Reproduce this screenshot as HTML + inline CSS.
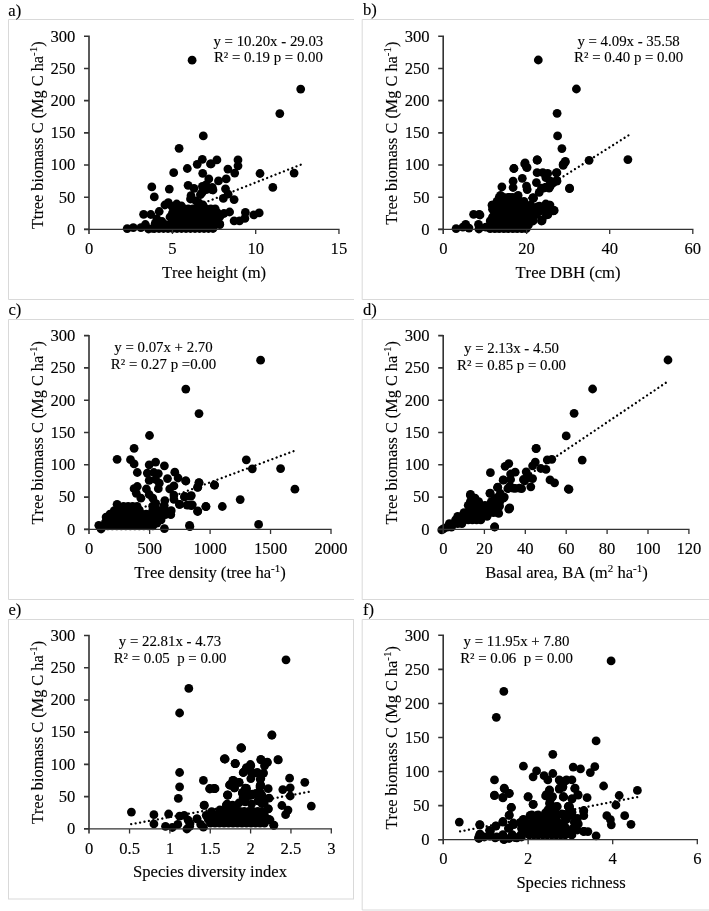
<!DOCTYPE html>
<html><head><meta charset="utf-8"><title>Tree biomass C scatter plots</title>
<style>html,body{margin:0;padding:0;background:#fff}body{width:709px;height:911px;overflow:hidden}svg{display:block;will-change:transform}
text{font-family:"Liberation Serif",serif;fill:#000;stroke:#000;stroke-width:.12px;font-kerning:none}.t{font-size:16.6px}.eq{font-size:14.85px}.sup{font-size:11px}.lab{font-size:16.6px}.yl{font-size:16.3px}
.ax{stroke:#333;fill:none}.pt circle{fill:#000}.tl{stroke:#000;stroke-width:2.3;stroke-dasharray:0.01 4.5;stroke-linecap:round;fill:none}
</style></head><body>
<svg width="709" height="911" viewBox="0 0 709 911">
<rect width="709" height="911" fill="#fff"/>
<!-- panel a -->
<g>
<path d="M354 19.5H8.5V299.5H354" fill="none" stroke="#d9d9d9" stroke-width="1"/>
<text class="lab" x="8.3" y="15.5">a)</text>
<g class="pt">
<circle cx="192.1" cy="60.2" r="4.4"/><circle cx="300.7" cy="89.1" r="4.4"/><circle cx="279.8" cy="113.6" r="4.4"/><circle cx="203.3" cy="135.9" r="4.4"/><circle cx="179.1" cy="148.3" r="4.4"/><circle cx="202.3" cy="159.3" r="4.4"/><circle cx="197.2" cy="164.3" r="4.4"/><circle cx="211.1" cy="163.9" r="4.4"/><circle cx="187.3" cy="168.5" r="4.4"/><circle cx="173.7" cy="172.7" r="4.4"/><circle cx="202.7" cy="173.3" r="4.4"/><circle cx="208.8" cy="178.9" r="4.4"/><circle cx="218.5" cy="180.9" r="4.4"/><circle cx="226.2" cy="178.9" r="4.4"/><circle cx="188.1" cy="185.3" r="4.4"/><circle cx="151.8" cy="186.9" r="4.4"/><circle cx="169.3" cy="189.1" r="4.4"/><circle cx="154.3" cy="196.9" r="4.4"/><circle cx="194" cy="188.3" r="4.4"/><circle cx="202.4" cy="186.3" r="4.4"/><circle cx="206.3" cy="189.7" r="4.4"/><circle cx="212.3" cy="187.3" r="4.4"/><circle cx="213" cy="190" r="4.4"/><circle cx="200.4" cy="194.7" r="4.4"/><circle cx="191" cy="195.7" r="4.4"/><circle cx="190.5" cy="199" r="4.4"/><circle cx="223.3" cy="198.4" r="4.4"/><circle cx="205.9" cy="184.8" r="4.4"/><circle cx="211.8" cy="189.7" r="4.4"/><circle cx="202" cy="192.7" r="4.4"/><circle cx="225.5" cy="188.8" r="4.4"/><circle cx="228.1" cy="194.2" r="4.4"/><circle cx="234.1" cy="199.6" r="4.4"/><circle cx="168.3" cy="202.6" r="4.4"/><circle cx="164.9" cy="205" r="4.4"/><circle cx="176.7" cy="204" r="4.4"/><circle cx="181.5" cy="206" r="4.4"/><circle cx="159.2" cy="211.5" r="4.4"/><circle cx="143.6" cy="214.3" r="4.4"/><circle cx="150.8" cy="214.5" r="4.4"/><circle cx="127.2" cy="228.6" r="4.4"/><circle cx="133.3" cy="227.7" r="4.4"/><circle cx="140.9" cy="227.7" r="4.4"/><circle cx="145.4" cy="224.5" r="4.4"/><circle cx="148.5" cy="229" r="4.4"/><circle cx="216.9" cy="159.9" r="4.4"/><circle cx="210.5" cy="163.9" r="4.4"/><circle cx="238.0" cy="159.9" r="4.4"/><circle cx="238.0" cy="165.8" r="4.4"/><circle cx="227.9" cy="169.1" r="4.4"/><circle cx="234.7" cy="173.1" r="4.4"/><circle cx="260.0" cy="173.5" r="4.4"/><circle cx="294.1" cy="173.1" r="4.4"/><circle cx="272.8" cy="187.4" r="4.4"/><circle cx="229.6" cy="212" r="4.4"/><circle cx="245.4" cy="212.4" r="4.4"/><circle cx="259.2" cy="212.9" r="4.4"/><circle cx="253.8" cy="214.9" r="4.4"/><circle cx="244.9" cy="218.4" r="4.4"/><circle cx="234.1" cy="220.8" r="4.4"/><circle cx="239.5" cy="220.8" r="4.4"/><circle cx="219.7" cy="223.8" r="4.4"/><circle cx="208.9" cy="226.3" r="4.4"/><circle cx="224" cy="213.5" r="4.4"/><circle cx="174.8" cy="208.9" r="4.4"/><circle cx="179.2" cy="208.9" r="4.4"/><circle cx="183.8" cy="208.9" r="4.4"/><circle cx="188.2" cy="208.9" r="4.4"/><circle cx="192.8" cy="208.9" r="4.4"/><circle cx="197.2" cy="208.9" r="4.4"/><circle cx="201.8" cy="208.9" r="4.4"/><circle cx="206.2" cy="208.9" r="4.4"/><circle cx="210.8" cy="208.9" r="4.4"/><circle cx="215.2" cy="208.9" r="4.4"/><circle cx="172.5" cy="212.8" r="4.4"/><circle cx="177.0" cy="212.8" r="4.4"/><circle cx="181.5" cy="212.8" r="4.4"/><circle cx="186.0" cy="212.8" r="4.4"/><circle cx="190.5" cy="212.8" r="4.4"/><circle cx="195.0" cy="212.8" r="4.4"/><circle cx="199.5" cy="212.8" r="4.4"/><circle cx="204.0" cy="212.8" r="4.4"/><circle cx="208.5" cy="212.8" r="4.4"/><circle cx="213.0" cy="212.8" r="4.4"/><circle cx="217.5" cy="212.8" r="4.4"/><circle cx="174.8" cy="216.7" r="4.4"/><circle cx="179.2" cy="216.7" r="4.4"/><circle cx="183.8" cy="216.7" r="4.4"/><circle cx="188.2" cy="216.7" r="4.4"/><circle cx="192.8" cy="216.7" r="4.4"/><circle cx="197.2" cy="216.7" r="4.4"/><circle cx="201.8" cy="216.7" r="4.4"/><circle cx="206.2" cy="216.7" r="4.4"/><circle cx="210.8" cy="216.7" r="4.4"/><circle cx="215.2" cy="216.7" r="4.4"/><circle cx="219.8" cy="216.7" r="4.4"/><circle cx="172.5" cy="220.7" r="4.4"/><circle cx="177.0" cy="220.7" r="4.4"/><circle cx="181.5" cy="220.7" r="4.4"/><circle cx="186.0" cy="220.7" r="4.4"/><circle cx="190.5" cy="220.7" r="4.4"/><circle cx="195.0" cy="220.7" r="4.4"/><circle cx="199.5" cy="220.7" r="4.4"/><circle cx="204.0" cy="220.7" r="4.4"/><circle cx="208.5" cy="220.7" r="4.4"/><circle cx="213.0" cy="220.7" r="4.4"/><circle cx="217.5" cy="220.7" r="4.4"/><circle cx="156.8" cy="224.6" r="4.4"/><circle cx="161.2" cy="224.6" r="4.4"/><circle cx="165.8" cy="224.6" r="4.4"/><circle cx="170.2" cy="224.6" r="4.4"/><circle cx="174.8" cy="224.6" r="4.4"/><circle cx="179.2" cy="224.6" r="4.4"/><circle cx="183.8" cy="224.6" r="4.4"/><circle cx="188.2" cy="224.6" r="4.4"/><circle cx="192.8" cy="224.6" r="4.4"/><circle cx="197.2" cy="224.6" r="4.4"/><circle cx="201.8" cy="224.6" r="4.4"/><circle cx="206.2" cy="224.6" r="4.4"/><circle cx="210.8" cy="224.6" r="4.4"/><circle cx="215.2" cy="224.6" r="4.4"/><circle cx="219.8" cy="224.6" r="4.4"/><circle cx="154.5" cy="228.5" r="4.4"/><circle cx="159.0" cy="228.5" r="4.4"/><circle cx="163.5" cy="228.5" r="4.4"/><circle cx="168.0" cy="228.5" r="4.4"/><circle cx="172.5" cy="228.5" r="4.4"/><circle cx="177.0" cy="228.5" r="4.4"/><circle cx="181.5" cy="228.5" r="4.4"/><circle cx="186.0" cy="228.5" r="4.4"/><circle cx="190.5" cy="228.5" r="4.4"/><circle cx="195.0" cy="228.5" r="4.4"/><circle cx="199.5" cy="228.5" r="4.4"/><circle cx="204.0" cy="228.5" r="4.4"/><circle cx="208.5" cy="228.5" r="4.4"/><circle cx="213.0" cy="228.5" r="4.4"/><circle cx="199" cy="203" r="4.4"/><circle cx="203" cy="205" r="4.4"/><circle cx="196" cy="201" r="4.4"/><circle cx="155.2" cy="223.3" r="4.4"/><circle cx="159" cy="227.1" r="4.4"/><circle cx="152.7" cy="228.4" r="4.4"/><circle cx="172" cy="206.5" r="4.4"/><circle cx="156.8" cy="218.9" r="4.4"/><circle cx="162" cy="221.5" r="4.4"/><circle cx="170" cy="217" r="4.4"/>
</g>
<line class="tl" x1="300.7" y1="164.7" x2="192.4" y2="207.5"/>
<path class="ax" stroke-width="1.6" d="M89 35.599999999999994V234.0M84 229.4H89M84 197.22H89M84 165.03H89M84 132.85H89M84 100.67H89M84 68.48H89M84 36.3H89"/>
<path class="ax" stroke="#111" stroke-width="1.3" d="M84 229.4H339.65M172.45 229.4V234.0M255.7 229.4V234.0M338.95 229.4V234.0"/>
<text class="t" text-anchor="end" x="75.4" y="234.7">0</text>
<text class="t" text-anchor="end" x="75.4" y="202.5">50</text>
<text class="t" text-anchor="end" x="75.4" y="170.3">100</text>
<text class="t" text-anchor="end" x="75.4" y="138.2">150</text>
<text class="t" text-anchor="end" x="75.4" y="106.0">200</text>
<text class="t" text-anchor="end" x="75.4" y="73.8">250</text>
<text class="t" text-anchor="end" x="75.4" y="41.6">300</text>
<text class="t" text-anchor="middle" x="89.2" y="254.1">0</text>
<text class="t" text-anchor="middle" x="172.4" y="254.1">5</text>
<text class="t" text-anchor="middle" x="255.7" y="254.1">10</text>
<text class="t" text-anchor="middle" x="338.9" y="254.1">15</text>
<text class="yl" text-anchor="middle" transform="translate(42.5 135.2) rotate(-90)">Ttree biomass C (Mg C ha<tspan class="sup" dy="-5.6">-1</tspan><tspan dy="5.6">)</tspan></text>
<text class="t" text-anchor="middle" x="214" y="277.6">Tree height (m)</text>
<text class="eq" text-anchor="middle" x="268.4" y="45.8" xml:space="preserve">y = 10.20x - 29.03</text>
<text class="eq" text-anchor="middle" x="268.4" y="62.4" xml:space="preserve">R² = 0.19 p = 0.00</text>
</g>
<!-- panel b -->
<g>
<path d="M720 19.5H362.2V299.5H720" fill="none" stroke="#d9d9d9" stroke-width="1"/>
<text class="lab" x="363" y="15.3">b)</text>
<g class="pt">
<circle cx="538.3" cy="60.0" r="4.4"/><circle cx="576.4" cy="89.0" r="4.4"/><circle cx="557.1" cy="113.3" r="4.4"/><circle cx="557.6" cy="135.9" r="4.4"/><circle cx="561.9" cy="148.6" r="4.4"/><circle cx="537.3" cy="160.1" r="4.4"/><circle cx="565.2" cy="162.1" r="4.4"/><circle cx="563.2" cy="165.4" r="4.4"/><circle cx="589.1" cy="160.3" r="4.4"/><circle cx="627.9" cy="159.6" r="4.4"/><circle cx="556.3" cy="172.8" r="4.4"/><circle cx="556.8" cy="180.4" r="4.4"/><circle cx="569.5" cy="188.7" r="4.4"/><circle cx="513.9" cy="168.5" r="4.4"/><circle cx="525.1" cy="162.8" r="4.4"/><circle cx="526.5" cy="167.1" r="4.4"/><circle cx="537.1" cy="160.0" r="4.4"/><circle cx="563.2" cy="164.2" r="4.4"/><circle cx="565.3" cy="161.4" r="4.4"/><circle cx="537.1" cy="172.7" r="4.4"/><circle cx="542.8" cy="172.7" r="4.4"/><circle cx="547.7" cy="173.4" r="4.4"/><circle cx="556.9" cy="172.7" r="4.4"/><circle cx="522.3" cy="178.3" r="4.4"/><circle cx="513.1" cy="181.2" r="4.4"/><circle cx="513.1" cy="187.5" r="4.4"/><circle cx="536.4" cy="182.6" r="4.4"/><circle cx="556.9" cy="181.2" r="4.4"/><circle cx="550.5" cy="185.4" r="4.4"/><circle cx="501.9" cy="186.8" r="4.4"/><circle cx="526.5" cy="186.1" r="4.4"/><circle cx="527.2" cy="189.6" r="4.4"/><circle cx="543.5" cy="188.2" r="4.4"/><circle cx="549.1" cy="188.2" r="4.4"/><circle cx="539.2" cy="192.4" r="4.4"/><circle cx="569.6" cy="188.2" r="4.4"/><circle cx="500.5" cy="195.3" r="4.4"/><circle cx="532.9" cy="198.1" r="4.4"/><circle cx="518.1" cy="195.3" r="4.4"/><circle cx="509.6" cy="197.4" r="4.4"/><circle cx="492.0" cy="205.1" r="4.4"/><circle cx="548.4" cy="206.5" r="4.4"/><circle cx="553.3" cy="210.8" r="4.4"/><circle cx="537.8" cy="208.0" r="4.4"/><circle cx="542.1" cy="220.6" r="4.4"/><circle cx="546.3" cy="215.0" r="4.4"/><circle cx="480.0" cy="215.0" r="4.4"/><circle cx="537.2" cy="159.9" r="4.4"/><circle cx="524.7" cy="163.9" r="4.4"/><circle cx="527.1" cy="167.6" r="4.4"/><circle cx="513.9" cy="168.5" r="4.4"/><circle cx="473.6" cy="214.3" r="4.4"/><circle cx="479.1" cy="214.3" r="4.4"/><circle cx="456.1" cy="228.6" r="4.4"/><circle cx="462.9" cy="227.2" r="4.4"/><circle cx="465.7" cy="224.4" r="4.4"/><circle cx="469.0" cy="228.1" r="4.4"/><circle cx="478.5" cy="224.4" r="4.4"/><circle cx="478.9" cy="229.0" r="4.4"/><circle cx="485.8" cy="227.2" r="4.4"/><circle cx="492.3" cy="205.2" r="4.4"/><circle cx="549.1" cy="205.2" r="4.4"/><circle cx="553.7" cy="210.7" r="4.4"/><circle cx="545.4" cy="210.7" r="4.4"/><circle cx="541.8" cy="219.8" r="4.4"/><circle cx="537.2" cy="207.0" r="4.4"/><circle cx="539.0" cy="211.6" r="4.4"/><circle cx="533.5" cy="198.2" r="4.4"/><circle cx="545.8" cy="177.6" r="4.4"/><circle cx="550" cy="180.8" r="4.4"/><circle cx="541.5" cy="188.2" r="4.4"/><circle cx="545.8" cy="187.1" r="4.4"/><circle cx="550" cy="186.1" r="4.4"/><circle cx="553.2" cy="182.9" r="4.4"/><circle cx="533.1" cy="197.7" r="4.4"/><circle cx="539.4" cy="206.2" r="4.4"/><circle cx="545.8" cy="204" r="4.4"/><circle cx="550" cy="205.1" r="4.4"/><circle cx="554.2" cy="210.4" r="4.4"/><circle cx="547.9" cy="214.6" r="4.4"/><circle cx="541.5" cy="221" r="4.4"/><circle cx="533.1" cy="221" r="4.4"/><circle cx="524.6" cy="225.2" r="4.4"/><circle cx="536.3" cy="214.6" r="4.4"/><circle cx="499.2" cy="197.4" r="4.4"/><circle cx="503.8" cy="197.4" r="4.4"/><circle cx="508.2" cy="197.4" r="4.4"/><circle cx="512.8" cy="197.4" r="4.4"/><circle cx="517.2" cy="197.4" r="4.4"/><circle cx="497.0" cy="201.3" r="4.4"/><circle cx="501.5" cy="201.3" r="4.4"/><circle cx="506.0" cy="201.3" r="4.4"/><circle cx="510.5" cy="201.3" r="4.4"/><circle cx="515.0" cy="201.3" r="4.4"/><circle cx="519.5" cy="201.3" r="4.4"/><circle cx="524.0" cy="201.3" r="4.4"/><circle cx="494.8" cy="205.2" r="4.4"/><circle cx="499.2" cy="205.2" r="4.4"/><circle cx="503.8" cy="205.2" r="4.4"/><circle cx="508.2" cy="205.2" r="4.4"/><circle cx="512.8" cy="205.2" r="4.4"/><circle cx="517.2" cy="205.2" r="4.4"/><circle cx="521.8" cy="205.2" r="4.4"/><circle cx="526.2" cy="205.2" r="4.4"/><circle cx="530.8" cy="205.2" r="4.4"/><circle cx="492.5" cy="209.2" r="4.4"/><circle cx="497.0" cy="209.2" r="4.4"/><circle cx="501.5" cy="209.2" r="4.4"/><circle cx="506.0" cy="209.2" r="4.4"/><circle cx="510.5" cy="209.2" r="4.4"/><circle cx="515.0" cy="209.2" r="4.4"/><circle cx="519.5" cy="209.2" r="4.4"/><circle cx="524.0" cy="209.2" r="4.4"/><circle cx="528.5" cy="209.2" r="4.4"/><circle cx="533.0" cy="209.2" r="4.4"/><circle cx="494.8" cy="213.1" r="4.4"/><circle cx="499.2" cy="213.1" r="4.4"/><circle cx="503.8" cy="213.1" r="4.4"/><circle cx="508.2" cy="213.1" r="4.4"/><circle cx="512.8" cy="213.1" r="4.4"/><circle cx="517.2" cy="213.1" r="4.4"/><circle cx="521.8" cy="213.1" r="4.4"/><circle cx="526.2" cy="213.1" r="4.4"/><circle cx="530.8" cy="213.1" r="4.4"/><circle cx="492.5" cy="217.0" r="4.4"/><circle cx="497.0" cy="217.0" r="4.4"/><circle cx="501.5" cy="217.0" r="4.4"/><circle cx="506.0" cy="217.0" r="4.4"/><circle cx="510.5" cy="217.0" r="4.4"/><circle cx="515.0" cy="217.0" r="4.4"/><circle cx="519.5" cy="217.0" r="4.4"/><circle cx="524.0" cy="217.0" r="4.4"/><circle cx="528.5" cy="217.0" r="4.4"/><circle cx="533.0" cy="217.0" r="4.4"/><circle cx="490.2" cy="220.9" r="4.4"/><circle cx="494.8" cy="220.9" r="4.4"/><circle cx="499.2" cy="220.9" r="4.4"/><circle cx="503.8" cy="220.9" r="4.4"/><circle cx="508.2" cy="220.9" r="4.4"/><circle cx="512.8" cy="220.9" r="4.4"/><circle cx="517.2" cy="220.9" r="4.4"/><circle cx="521.8" cy="220.9" r="4.4"/><circle cx="526.2" cy="220.9" r="4.4"/><circle cx="530.8" cy="220.9" r="4.4"/><circle cx="492.5" cy="224.8" r="4.4"/><circle cx="497.0" cy="224.8" r="4.4"/><circle cx="501.5" cy="224.8" r="4.4"/><circle cx="506.0" cy="224.8" r="4.4"/><circle cx="510.5" cy="224.8" r="4.4"/><circle cx="515.0" cy="224.8" r="4.4"/><circle cx="519.5" cy="224.8" r="4.4"/><circle cx="524.0" cy="224.8" r="4.4"/><circle cx="528.5" cy="224.8" r="4.4"/><circle cx="490.2" cy="228.7" r="4.4"/><circle cx="494.8" cy="228.7" r="4.4"/><circle cx="499.2" cy="228.7" r="4.4"/><circle cx="503.8" cy="228.7" r="4.4"/><circle cx="508.2" cy="228.7" r="4.4"/><circle cx="512.8" cy="228.7" r="4.4"/><circle cx="517.2" cy="228.7" r="4.4"/><circle cx="521.8" cy="228.7" r="4.4"/><circle cx="526.2" cy="228.7" r="4.4"/>
</g>
<line class="tl" x1="628.4" y1="135.4" x2="514.1" y2="207.5"/>
<path class="ax" stroke-width="1.6" d="M443.2 35.599999999999994V234.0M438.2 229.4H443.2M438.2 197.22H443.2M438.2 165.03H443.2M438.2 132.85H443.2M438.2 100.67H443.2M438.2 68.48H443.2M438.2 36.3H443.2"/>
<path class="ax" stroke="#111" stroke-width="1.3" d="M438.2 229.4H693.5M526.6 229.4V234.0M609.7 229.4V234.0M692.8 229.4V234.0"/>
<text class="t" text-anchor="end" x="429.59999999999997" y="234.7">0</text>
<text class="t" text-anchor="end" x="429.59999999999997" y="202.5">50</text>
<text class="t" text-anchor="end" x="429.59999999999997" y="170.3">100</text>
<text class="t" text-anchor="end" x="429.59999999999997" y="138.2">150</text>
<text class="t" text-anchor="end" x="429.59999999999997" y="106.0">200</text>
<text class="t" text-anchor="end" x="429.59999999999997" y="73.8">250</text>
<text class="t" text-anchor="end" x="429.59999999999997" y="41.6">300</text>
<text class="t" text-anchor="middle" x="443.5" y="254.1">0</text>
<text class="t" text-anchor="middle" x="526.6" y="254.1">20</text>
<text class="t" text-anchor="middle" x="609.7" y="254.1">40</text>
<text class="t" text-anchor="middle" x="692.8" y="254.1">60</text>
<text class="yl" text-anchor="middle" transform="translate(396.7 133.2) rotate(-90)">Tree biomass C (Mg C ha<tspan class="sup" dy="-5.6">-1</tspan><tspan dy="5.6">)</tspan></text>
<text class="t" text-anchor="middle" x="568" y="277.6">Tree DBH (cm)</text>
<text class="eq" text-anchor="middle" x="628.6" y="45.6" xml:space="preserve">y = 4.09x - 35.58</text>
<text class="eq" text-anchor="middle" x="628.6" y="62.4" xml:space="preserve">R² = 0.40 p = 0.00</text>
</g>
<!-- panel c -->
<g>
<path d="M354 319.5H8.5V599.5H354" fill="none" stroke="#d9d9d9" stroke-width="1"/>
<text class="lab" x="8.4" y="315.4">c)</text>
<g class="pt">
<circle cx="260.6" cy="360.2" r="4.4"/><circle cx="185.8" cy="389.1" r="4.4"/><circle cx="199.0" cy="413.6" r="4.4"/><circle cx="246.3" cy="459.8" r="4.4"/><circle cx="252.3" cy="468.8" r="4.4"/><circle cx="280.6" cy="468.6" r="4.4"/><circle cx="294.9" cy="489.2" r="4.4"/><circle cx="214.6" cy="485.1" r="4.4"/><circle cx="199.0" cy="482.6" r="4.4"/><circle cx="197.6" cy="487.3" r="4.4"/><circle cx="185.8" cy="480.9" r="4.4"/><circle cx="240.2" cy="499.6" r="4.4"/><circle cx="222.3" cy="506.5" r="4.4"/><circle cx="205.8" cy="506.5" r="4.4"/><circle cx="197.6" cy="511.5" r="4.4"/><circle cx="258.6" cy="524.4" r="4.4"/><circle cx="189.9" cy="526.6" r="4.4"/><circle cx="190.7" cy="496.1" r="4.4"/><circle cx="184.4" cy="496.9" r="4.4"/><circle cx="191.3" cy="505.7" r="4.4"/><circle cx="187.1" cy="505.1" r="4.4"/><circle cx="179.7" cy="504.3" r="4.4"/><circle cx="149.5" cy="435.5" r="4.4"/><circle cx="134.1" cy="448.3" r="4.4"/><circle cx="117.1" cy="459.3" r="4.4"/><circle cx="130.5" cy="459.7" r="4.4"/><circle cx="134.1" cy="463.9" r="4.4"/><circle cx="155.6" cy="462.1" r="4.4"/><circle cx="149.2" cy="464.8" r="4.4"/><circle cx="164.4" cy="465.8" r="4.4"/><circle cx="137.3" cy="472.5" r="4.4"/><circle cx="147.3" cy="473.1" r="4.4"/><circle cx="153.8" cy="472.5" r="4.4"/><circle cx="158.3" cy="473.6" r="4.4"/><circle cx="174.8" cy="472.2" r="4.4"/><circle cx="178.1" cy="478.0" r="4.4"/><circle cx="167.5" cy="478.6" r="4.4"/><circle cx="185.8" cy="481.0" r="4.4"/><circle cx="149.2" cy="480.4" r="4.4"/><circle cx="155.6" cy="479.5" r="4.4"/><circle cx="159.3" cy="483.2" r="4.4"/><circle cx="158.3" cy="488.7" r="4.4"/><circle cx="199.0" cy="482.8" r="4.4"/><circle cx="197.8" cy="487.2" r="4.4"/><circle cx="214.3" cy="485.0" r="4.4"/><circle cx="134.1" cy="488.7" r="4.4"/><circle cx="137.3" cy="486.5" r="4.4"/><circle cx="136.3" cy="493.3" r="4.4"/><circle cx="146.4" cy="489.0" r="4.4"/><circle cx="149.2" cy="494.5" r="4.4"/><circle cx="173.9" cy="485.9" r="4.4"/><circle cx="169.7" cy="489.0" r="4.4"/><circle cx="140.9" cy="498.2" r="4.4"/><circle cx="152.8" cy="498.2" r="4.4"/><circle cx="173.9" cy="495.1" r="4.4"/><circle cx="173.9" cy="499.3" r="4.4"/><circle cx="184.9" cy="496.4" r="4.4"/><circle cx="191.3" cy="495.6" r="4.4"/><circle cx="179.4" cy="504.3" r="4.4"/><circle cx="188.6" cy="504.8" r="4.4"/><circle cx="192.3" cy="504.8" r="4.4"/><circle cx="206.0" cy="506.6" r="4.4"/><circle cx="197.8" cy="511.0" r="4.4"/><circle cx="117.1" cy="504.3" r="4.4"/><circle cx="164.8" cy="500.6" r="4.4"/><circle cx="164.2" cy="505.2" r="4.4"/><circle cx="155.6" cy="503.3" r="4.4"/><circle cx="171.2" cy="510.7" r="4.4"/><circle cx="170.8" cy="514.7" r="4.4"/><circle cx="114.3" cy="510.7" r="4.4"/><circle cx="161.1" cy="519.8" r="4.4"/><circle cx="164.4" cy="528.6" r="4.4"/><circle cx="189.5" cy="525.3" r="4.4"/><circle cx="98.8" cy="525.3" r="4.4"/><circle cx="101.1" cy="529.0" r="4.4"/><circle cx="106.1" cy="517.1" r="4.4"/><circle cx="107.0" cy="521.7" r="4.4"/><circle cx="123.5" cy="506.3" r="4.4"/><circle cx="128.1" cy="506.3" r="4.4"/><circle cx="132.6" cy="506.3" r="4.4"/><circle cx="137.1" cy="506.3" r="4.4"/><circle cx="155.1" cy="506.3" r="4.4"/><circle cx="116.8" cy="510.2" r="4.4"/><circle cx="121.3" cy="510.2" r="4.4"/><circle cx="125.8" cy="510.2" r="4.4"/><circle cx="130.3" cy="510.2" r="4.4"/><circle cx="134.8" cy="510.2" r="4.4"/><circle cx="139.3" cy="510.2" r="4.4"/><circle cx="152.8" cy="510.2" r="4.4"/><circle cx="157.3" cy="510.2" r="4.4"/><circle cx="110.0" cy="514.1" r="4.4"/><circle cx="114.5" cy="514.1" r="4.4"/><circle cx="119.0" cy="514.1" r="4.4"/><circle cx="123.5" cy="514.1" r="4.4"/><circle cx="128.1" cy="514.1" r="4.4"/><circle cx="132.6" cy="514.1" r="4.4"/><circle cx="137.1" cy="514.1" r="4.4"/><circle cx="141.6" cy="514.1" r="4.4"/><circle cx="146.1" cy="514.1" r="4.4"/><circle cx="150.6" cy="514.1" r="4.4"/><circle cx="155.1" cy="514.1" r="4.4"/><circle cx="159.6" cy="514.1" r="4.4"/><circle cx="107.8" cy="518.1" r="4.4"/><circle cx="112.3" cy="518.1" r="4.4"/><circle cx="116.8" cy="518.1" r="4.4"/><circle cx="121.3" cy="518.1" r="4.4"/><circle cx="125.8" cy="518.1" r="4.4"/><circle cx="130.3" cy="518.1" r="4.4"/><circle cx="134.8" cy="518.1" r="4.4"/><circle cx="139.3" cy="518.1" r="4.4"/><circle cx="143.8" cy="518.1" r="4.4"/><circle cx="148.3" cy="518.1" r="4.4"/><circle cx="152.8" cy="518.1" r="4.4"/><circle cx="157.3" cy="518.1" r="4.4"/><circle cx="105.5" cy="522.0" r="4.4"/><circle cx="110.0" cy="522.0" r="4.4"/><circle cx="114.5" cy="522.0" r="4.4"/><circle cx="119.0" cy="522.0" r="4.4"/><circle cx="123.5" cy="522.0" r="4.4"/><circle cx="128.1" cy="522.0" r="4.4"/><circle cx="132.6" cy="522.0" r="4.4"/><circle cx="137.1" cy="522.0" r="4.4"/><circle cx="141.6" cy="522.0" r="4.4"/><circle cx="146.1" cy="522.0" r="4.4"/><circle cx="150.6" cy="522.0" r="4.4"/><circle cx="155.1" cy="522.0" r="4.4"/><circle cx="103.3" cy="525.9" r="4.4"/><circle cx="107.8" cy="525.9" r="4.4"/><circle cx="112.3" cy="525.9" r="4.4"/><circle cx="116.8" cy="525.9" r="4.4"/><circle cx="121.3" cy="525.9" r="4.4"/><circle cx="125.8" cy="525.9" r="4.4"/><circle cx="130.3" cy="525.9" r="4.4"/><circle cx="134.8" cy="525.9" r="4.4"/><circle cx="139.3" cy="525.9" r="4.4"/><circle cx="143.8" cy="525.9" r="4.4"/><circle cx="148.3" cy="525.9" r="4.4"/><circle cx="152.8" cy="525.9" r="4.4"/><circle cx="152.7" cy="506.2" r="4.4"/><circle cx="154.8" cy="512.5" r="4.4"/><circle cx="159.0" cy="518.9" r="4.4"/><circle cx="164.3" cy="508.3" r="4.4"/><circle cx="165.4" cy="514.6" r="4.4"/><circle cx="156.9" cy="523.1" r="4.4"/>
</g>
<line class="tl" x1="293.5" y1="451.2" x2="98.3" y2="524.2"/>
<path class="ax" stroke-width="1.6" d="M89 334.90000000000003V534.0M84 529.4H89M84 497.1H89M84 464.8H89M84 432.5H89M84 400.2H89M84 367.9H89M84 335.6H89"/>
<path class="ax" stroke="#111" stroke-width="1.3" d="M84 529.4H331.7M149.65 529.4V534.0M210.1 529.4V534.0M270.55 529.4V534.0M331.0 529.4V534.0"/>
<text class="t" text-anchor="end" x="75.4" y="534.7">0</text>
<text class="t" text-anchor="end" x="75.4" y="502.4">50</text>
<text class="t" text-anchor="end" x="75.4" y="470.1">100</text>
<text class="t" text-anchor="end" x="75.4" y="437.8">150</text>
<text class="t" text-anchor="end" x="75.4" y="405.5">200</text>
<text class="t" text-anchor="end" x="75.4" y="373.2">250</text>
<text class="t" text-anchor="end" x="75.4" y="340.9">300</text>
<text class="t" text-anchor="middle" x="89.2" y="554.1">0</text>
<text class="t" text-anchor="middle" x="149.7" y="554.1">500</text>
<text class="t" text-anchor="middle" x="210.1" y="554.1">1000</text>
<text class="t" text-anchor="middle" x="270.6" y="554.1">1500</text>
<text class="t" text-anchor="middle" x="331.0" y="554.1">2000</text>
<text class="yl" text-anchor="middle" transform="translate(42.5 432.8) rotate(-90)">Tree biomass C (Mg C ha<tspan class="sup" dy="-5.6">-1</tspan><tspan dy="5.6">)</tspan></text>
<text class="t" text-anchor="middle" x="210" y="577.6">Tree density (tree ha<tspan class="sup" dy="-5.6">-1</tspan><tspan dy="5.6">)</tspan></text>
<text class="eq" text-anchor="middle" x="163.5" y="351.8" xml:space="preserve">y = 0.07x + 2.70</text>
<text class="eq" text-anchor="middle" x="163.5" y="368.6" xml:space="preserve">R² = 0.27 p =0.00</text>
</g>
<!-- panel d -->
<g>
<path d="M720 319.5H362.2V599.5H720" fill="none" stroke="#d9d9d9" stroke-width="1"/>
<text class="lab" x="363" y="315.4">d)</text>
<g class="pt">
<circle cx="668.0" cy="360.0" r="4.4"/><circle cx="592.6" cy="389.0" r="4.4"/><circle cx="574.1" cy="413.3" r="4.4"/><circle cx="566.2" cy="435.9" r="4.4"/><circle cx="536.0" cy="448.6" r="4.4"/><circle cx="582.2" cy="460.1" r="4.4"/><circle cx="569.0" cy="489.3" r="4.4"/><circle cx="536.3" cy="448.3" r="4.4"/><circle cx="535.3" cy="462.1" r="4.4"/><circle cx="532.6" cy="465.8" r="4.4"/><circle cx="547.3" cy="459.9" r="4.4"/><circle cx="551.8" cy="459.3" r="4.4"/><circle cx="540.8" cy="468.5" r="4.4"/><circle cx="546.0" cy="469.4" r="4.4"/><circle cx="550.0" cy="479.9" r="4.4"/><circle cx="554.6" cy="482.8" r="4.4"/><circle cx="568.3" cy="489.0" r="4.4"/><circle cx="508.8" cy="463.6" r="4.4"/><circle cx="505.1" cy="466.3" r="4.4"/><circle cx="490.4" cy="472.7" r="4.4"/><circle cx="515.2" cy="472.2" r="4.4"/><circle cx="510.6" cy="474.0" r="4.4"/><circle cx="526.2" cy="471.8" r="4.4"/><circle cx="528.0" cy="475.8" r="4.4"/><circle cx="532.6" cy="478.6" r="4.4"/><circle cx="510.6" cy="479.5" r="4.4"/><circle cx="503.3" cy="479.9" r="4.4"/><circle cx="523.4" cy="479.5" r="4.4"/><circle cx="530.8" cy="486.8" r="4.4"/><circle cx="497.8" cy="487.2" r="4.4"/><circle cx="507.8" cy="488.7" r="4.4"/><circle cx="515.2" cy="488.3" r="4.4"/><circle cx="521.6" cy="488.7" r="4.4"/><circle cx="489.9" cy="493.3" r="4.4"/><circle cx="470.3" cy="495.1" r="4.4"/><circle cx="474.8" cy="498.8" r="4.4"/><circle cx="503.3" cy="498.2" r="4.4"/><circle cx="495.0" cy="498.8" r="4.4"/><circle cx="496.8" cy="502.4" r="4.4"/><circle cx="509.7" cy="507.9" r="4.4"/><circle cx="508.8" cy="509.2" r="4.4"/><circle cx="499.6" cy="506.1" r="4.4"/><circle cx="498.7" cy="513.4" r="4.4"/><circle cx="494.6" cy="526.8" r="4.4"/><circle cx="443.7" cy="528.6" r="4.4"/><circle cx="441.8" cy="529.9" r="4.4"/><circle cx="470.5" cy="494.3" r="4.4"/><circle cx="475" cy="498.2" r="4.4"/><circle cx="490.2" cy="493.1" r="4.4"/><circle cx="497.5" cy="487.5" r="4.4"/><circle cx="503.2" cy="480.2" r="4.4"/><circle cx="498.7" cy="497.1" r="4.4"/><circle cx="504.3" cy="497.1" r="4.4"/><circle cx="509.4" cy="508.4" r="4.4"/><circle cx="494.7" cy="527" r="4.4"/><circle cx="509.8" cy="486.1" r="4.4"/><circle cx="513.0" cy="488.2" r="4.4"/><circle cx="519.3" cy="488.2" r="4.4"/><circle cx="524.6" cy="480.8" r="4.4"/><circle cx="528.9" cy="477.6" r="4.4"/><circle cx="500.3" cy="493.5" r="4.4"/><circle cx="497.1" cy="497.7" r="4.4"/><circle cx="492.9" cy="501.9" r="4.4"/><circle cx="496.1" cy="503.0" r="4.4"/><circle cx="470.3" cy="501.7" r="4.4"/><circle cx="474.5" cy="501.7" r="4.4"/><circle cx="478.7" cy="501.7" r="4.4"/><circle cx="491.3" cy="501.7" r="4.4"/><circle cx="495.5" cy="501.7" r="4.4"/><circle cx="499.7" cy="501.7" r="4.4"/><circle cx="468.2" cy="505.3" r="4.4"/><circle cx="472.4" cy="505.3" r="4.4"/><circle cx="476.6" cy="505.3" r="4.4"/><circle cx="480.8" cy="505.3" r="4.4"/><circle cx="485.0" cy="505.3" r="4.4"/><circle cx="489.2" cy="505.3" r="4.4"/><circle cx="493.4" cy="505.3" r="4.4"/><circle cx="497.6" cy="505.3" r="4.4"/><circle cx="470.3" cy="509.0" r="4.4"/><circle cx="474.5" cy="509.0" r="4.4"/><circle cx="478.7" cy="509.0" r="4.4"/><circle cx="482.9" cy="509.0" r="4.4"/><circle cx="487.1" cy="509.0" r="4.4"/><circle cx="491.3" cy="509.0" r="4.4"/><circle cx="495.5" cy="509.0" r="4.4"/><circle cx="464.0" cy="512.6" r="4.4"/><circle cx="468.2" cy="512.6" r="4.4"/><circle cx="472.4" cy="512.6" r="4.4"/><circle cx="476.6" cy="512.6" r="4.4"/><circle cx="480.8" cy="512.6" r="4.4"/><circle cx="485.0" cy="512.6" r="4.4"/><circle cx="489.2" cy="512.6" r="4.4"/><circle cx="493.4" cy="512.6" r="4.4"/><circle cx="497.6" cy="512.6" r="4.4"/><circle cx="457.7" cy="516.3" r="4.4"/><circle cx="461.9" cy="516.3" r="4.4"/><circle cx="466.1" cy="516.3" r="4.4"/><circle cx="470.3" cy="516.3" r="4.4"/><circle cx="474.5" cy="516.3" r="4.4"/><circle cx="478.7" cy="516.3" r="4.4"/><circle cx="482.9" cy="516.3" r="4.4"/><circle cx="487.1" cy="516.3" r="4.4"/><circle cx="455.6" cy="519.9" r="4.4"/><circle cx="459.8" cy="519.9" r="4.4"/><circle cx="464.0" cy="519.9" r="4.4"/><circle cx="468.2" cy="519.9" r="4.4"/><circle cx="472.4" cy="519.9" r="4.4"/><circle cx="476.6" cy="519.9" r="4.4"/><circle cx="480.8" cy="519.9" r="4.4"/><circle cx="449.3" cy="523.6" r="4.4"/><circle cx="453.5" cy="523.6" r="4.4"/><circle cx="457.7" cy="523.6" r="4.4"/><circle cx="461.9" cy="523.6" r="4.4"/><circle cx="447.2" cy="527.2" r="4.4"/><circle cx="451.4" cy="527.2" r="4.4"/>
</g>
<line class="tl" x1="665.8" y1="382.8" x2="525.3" y2="477.3"/>
<path class="ax" stroke-width="1.6" d="M443.2 334.90000000000003V534.0M438.2 529.4H443.2M438.2 497.1H443.2M438.2 464.8H443.2M438.2 432.5H443.2M438.2 400.2H443.2M438.2 367.9H443.2M438.2 335.6H443.2"/>
<path class="ax" stroke="#111" stroke-width="1.3" d="M438.2 529.4H689.6M484.4 529.4V534.0M525.3 529.4V534.0M566.2 529.4V534.0M607.1 529.4V534.0M648.0 529.4V534.0M688.9 529.4V534.0"/>
<text class="t" text-anchor="end" x="429.59999999999997" y="534.7">0</text>
<text class="t" text-anchor="end" x="429.59999999999997" y="502.4">50</text>
<text class="t" text-anchor="end" x="429.59999999999997" y="470.1">100</text>
<text class="t" text-anchor="end" x="429.59999999999997" y="437.8">150</text>
<text class="t" text-anchor="end" x="429.59999999999997" y="405.5">200</text>
<text class="t" text-anchor="end" x="429.59999999999997" y="373.2">250</text>
<text class="t" text-anchor="end" x="429.59999999999997" y="340.9">300</text>
<text class="t" text-anchor="middle" x="443.5" y="554.1">0</text>
<text class="t" text-anchor="middle" x="484.4" y="554.1">20</text>
<text class="t" text-anchor="middle" x="525.3" y="554.1">40</text>
<text class="t" text-anchor="middle" x="566.2" y="554.1">60</text>
<text class="t" text-anchor="middle" x="607.1" y="554.1">80</text>
<text class="t" text-anchor="middle" x="648.0" y="554.1">100</text>
<text class="t" text-anchor="middle" x="688.9" y="554.1">120</text>
<text class="yl" text-anchor="middle" transform="translate(396.7 432.8) rotate(-90)">Tree biomass C (Mg C ha<tspan class="sup" dy="-5.6">-1</tspan><tspan dy="5.6">)</tspan></text>
<text class="t" text-anchor="middle" x="566.5" y="577.6">Basal area, BA (m<tspan class="sup" dy="-5.6">2</tspan><tspan dy="5.6"> ha</tspan><tspan class="sup" dy="-5.6">-1</tspan><tspan dy="5.6">)</tspan></text>
<text class="eq" text-anchor="middle" x="511.5" y="353.1" xml:space="preserve">y = 2.13x - 4.50</text>
<text class="eq" text-anchor="middle" x="511.5" y="370.2" xml:space="preserve">R² = 0.85 p = 0.00</text>
</g>
<!-- panel e -->
<g>
<rect x="8.5" y="619.5" width="345.0" height="279.5" fill="#fff" stroke="#d9d9d9" stroke-width="1"/>
<text class="lab" x="8.4" y="615.4">e)</text>
<g class="pt">
<circle cx="286.0" cy="659.8" r="4.4"/><circle cx="188.8" cy="688.4" r="4.4"/><circle cx="179.6" cy="713.0" r="4.4"/><circle cx="272.0" cy="735.0" r="4.4"/><circle cx="240.8" cy="747.8" r="4.4"/><circle cx="224.3" cy="758.8" r="4.4"/><circle cx="235.3" cy="763.6" r="4.4"/><circle cx="261.0" cy="759.9" r="4.4"/><circle cx="267.3" cy="762.5" r="4.4"/><circle cx="278.3" cy="759.9" r="4.4"/><circle cx="241.4" cy="748.0" r="4.4"/><circle cx="224.9" cy="759.0" r="4.4"/><circle cx="235.1" cy="763.6" r="4.4"/><circle cx="246.5" cy="767.6" r="4.4"/><circle cx="243.2" cy="772.5" r="4.4"/><circle cx="179.6" cy="772.5" r="4.4"/><circle cx="203.4" cy="780.4" r="4.4"/><circle cx="232.8" cy="780.4" r="4.4"/><circle cx="239.2" cy="782.3" r="4.4"/><circle cx="229.6" cy="785.0" r="4.4"/><circle cx="234.6" cy="787.8" r="4.4"/><circle cx="179.6" cy="786.8" r="4.4"/><circle cx="209.8" cy="789.0" r="4.4"/><circle cx="214.4" cy="788.7" r="4.4"/><circle cx="246.5" cy="788.3" r="4.4"/><circle cx="242.5" cy="793.3" r="4.4"/><circle cx="227.8" cy="795.1" r="4.4"/><circle cx="178.3" cy="798.4" r="4.4"/><circle cx="204.3" cy="805.2" r="4.4"/><circle cx="226.7" cy="805.2" r="4.4"/><circle cx="131.4" cy="812.1" r="4.4"/><circle cx="153.9" cy="814.7" r="4.4"/><circle cx="168.6" cy="814.0" r="4.4"/><circle cx="153.9" cy="823.9" r="4.4"/><circle cx="179.6" cy="816.2" r="4.4"/><circle cx="184.2" cy="815.3" r="4.4"/><circle cx="188.2" cy="820.2" r="4.4"/><circle cx="197.0" cy="818.9" r="4.4"/><circle cx="177.8" cy="824.4" r="4.4"/><circle cx="165.5" cy="826.3" r="4.4"/><circle cx="172.3" cy="827.5" r="4.4"/><circle cx="189.7" cy="826.3" r="4.4"/><circle cx="186.9" cy="829.0" r="4.4"/><circle cx="200.7" cy="824.4" r="4.4"/><circle cx="203.4" cy="827.2" r="4.4"/><circle cx="235.5" cy="806.1" r="4.4"/><circle cx="219.9" cy="809.8" r="4.4"/><circle cx="211.7" cy="811.6" r="4.4"/><circle cx="206.2" cy="815.3" r="4.4"/><circle cx="271.8" cy="735.1" r="4.4"/><circle cx="241.6" cy="748.0" r="4.4"/><circle cx="225.1" cy="759.0" r="4.4"/><circle cx="235.2" cy="763.6" r="4.4"/><circle cx="260.8" cy="759.3" r="4.4"/><circle cx="267.3" cy="762.1" r="4.4"/><circle cx="277.9" cy="759.7" r="4.4"/><circle cx="250.8" cy="765.8" r="4.4"/><circle cx="246.2" cy="768.5" r="4.4"/><circle cx="243.4" cy="772.5" r="4.4"/><circle cx="264.5" cy="765.8" r="4.4"/><circle cx="254.4" cy="773.1" r="4.4"/><circle cx="263.6" cy="773.1" r="4.4"/><circle cx="250.8" cy="778.6" r="4.4"/><circle cx="260.8" cy="778.6" r="4.4"/><circle cx="233.3" cy="780.4" r="4.4"/><circle cx="238.8" cy="782.3" r="4.4"/><circle cx="229.7" cy="785.0" r="4.4"/><circle cx="234.3" cy="787.8" r="4.4"/><circle cx="289.6" cy="778.2" r="4.4"/><circle cx="304.8" cy="782.3" r="4.4"/><circle cx="260.8" cy="785.0" r="4.4"/><circle cx="268.2" cy="788.7" r="4.4"/><circle cx="245.8" cy="788.3" r="4.4"/><circle cx="242.5" cy="792.3" r="4.4"/><circle cx="282.8" cy="789.6" r="4.4"/><circle cx="290.2" cy="787.8" r="4.4"/><circle cx="215.0" cy="788.7" r="4.4"/><circle cx="252.6" cy="794.5" r="4.4"/><circle cx="227.8" cy="795.1" r="4.4"/><circle cx="260.8" cy="793.3" r="4.4"/><circle cx="290.2" cy="796.0" r="4.4"/><circle cx="269.1" cy="798.2" r="4.4"/><circle cx="244.3" cy="799.7" r="4.4"/><circle cx="226.4" cy="805.2" r="4.4"/><circle cx="281.9" cy="805.5" r="4.4"/><circle cx="288.0" cy="810.1" r="4.4"/><circle cx="311.3" cy="806.1" r="4.4"/><circle cx="285.6" cy="814.7" r="4.4"/><circle cx="268.2" cy="808.8" r="4.4"/><circle cx="261.8" cy="803.3" r="4.4"/><circle cx="260.8" cy="812.5" r="4.4"/><circle cx="270.0" cy="819.8" r="4.4"/><circle cx="273.7" cy="825.3" r="4.4"/><circle cx="204.1" cy="805.4" r="4.4"/><circle cx="197" cy="818.8" r="4.4"/><circle cx="190" cy="823.7" r="4.4"/><circle cx="273.9" cy="825.1" r="4.4"/><circle cx="269" cy="819.5" r="4.4"/><circle cx="268.3" cy="808.9" r="4.4"/><circle cx="209.7" cy="788.5" r="4.4"/><circle cx="214" cy="788.5" r="4.4"/><circle cx="227.4" cy="794.8" r="4.4"/><circle cx="252" cy="794.8" r="4.4"/><circle cx="226.7" cy="805.4" r="4.4"/><circle cx="221.8" cy="811.4" r="4.4"/><circle cx="226.2" cy="811.4" r="4.4"/><circle cx="230.8" cy="811.4" r="4.4"/><circle cx="235.2" cy="811.4" r="4.4"/><circle cx="239.8" cy="811.4" r="4.4"/><circle cx="244.2" cy="811.4" r="4.4"/><circle cx="248.8" cy="811.4" r="4.4"/><circle cx="253.2" cy="811.4" r="4.4"/><circle cx="257.8" cy="811.4" r="4.4"/><circle cx="262.2" cy="811.4" r="4.4"/><circle cx="210.5" cy="815.3" r="4.4"/><circle cx="215.0" cy="815.3" r="4.4"/><circle cx="219.5" cy="815.3" r="4.4"/><circle cx="224.0" cy="815.3" r="4.4"/><circle cx="228.5" cy="815.3" r="4.4"/><circle cx="233.0" cy="815.3" r="4.4"/><circle cx="237.5" cy="815.3" r="4.4"/><circle cx="242.0" cy="815.3" r="4.4"/><circle cx="246.5" cy="815.3" r="4.4"/><circle cx="251.0" cy="815.3" r="4.4"/><circle cx="255.5" cy="815.3" r="4.4"/><circle cx="260.0" cy="815.3" r="4.4"/><circle cx="264.5" cy="815.3" r="4.4"/><circle cx="208.2" cy="819.2" r="4.4"/><circle cx="212.8" cy="819.2" r="4.4"/><circle cx="217.2" cy="819.2" r="4.4"/><circle cx="221.8" cy="819.2" r="4.4"/><circle cx="226.2" cy="819.2" r="4.4"/><circle cx="230.8" cy="819.2" r="4.4"/><circle cx="235.2" cy="819.2" r="4.4"/><circle cx="239.8" cy="819.2" r="4.4"/><circle cx="244.2" cy="819.2" r="4.4"/><circle cx="248.8" cy="819.2" r="4.4"/><circle cx="253.2" cy="819.2" r="4.4"/><circle cx="257.8" cy="819.2" r="4.4"/><circle cx="262.2" cy="819.2" r="4.4"/><circle cx="266.8" cy="819.2" r="4.4"/><circle cx="210.5" cy="823.2" r="4.4"/><circle cx="215.0" cy="823.2" r="4.4"/><circle cx="219.5" cy="823.2" r="4.4"/><circle cx="224.0" cy="823.2" r="4.4"/><circle cx="228.5" cy="823.2" r="4.4"/><circle cx="233.0" cy="823.2" r="4.4"/><circle cx="237.5" cy="823.2" r="4.4"/><circle cx="242.0" cy="823.2" r="4.4"/><circle cx="246.5" cy="823.2" r="4.4"/><circle cx="251.0" cy="823.2" r="4.4"/><circle cx="255.5" cy="823.2" r="4.4"/><circle cx="260.0" cy="823.2" r="4.4"/><circle cx="264.5" cy="823.2" r="4.4"/><circle cx="245.2" cy="801.9" r="4.4"/><circle cx="251.5" cy="804.0" r="4.4"/><circle cx="257.9" cy="800.9" r="4.4"/><circle cx="264.2" cy="803.0" r="4.4"/><circle cx="249.4" cy="795.6" r="4.4"/><circle cx="255.8" cy="793.5" r="4.4"/><circle cx="238.9" cy="803.0" r="4.4"/><circle cx="243.1" cy="797.7" r="4.4"/><circle cx="232.5" cy="805.1" r="4.4"/><circle cx="227.2" cy="804.0" r="4.4"/><circle cx="262.1" cy="795.6" r="4.4"/><circle cx="260.0" cy="787.1" r="4.4"/><circle cx="246.3" cy="790.3" r="4.4"/><circle cx="250.4" cy="764.5" r="4.4"/><circle cx="257.3" cy="772.4" r="4.4"/><circle cx="251.3" cy="772.4" r="4.4"/><circle cx="260.2" cy="779.3" r="4.4"/><circle cx="252.3" cy="794.1" r="4.4"/><circle cx="245.4" cy="788.2" r="4.4"/><circle cx="242.5" cy="793.1" r="4.4"/><circle cx="244.4" cy="799.1" r="4.4"/><circle cx="260.2" cy="785.2" r="4.4"/><circle cx="259.2" cy="792.1" r="4.4"/>
</g>
<line class="tl" x1="308.7" y1="791.9" x2="127.1" y2="824.9"/>
<path class="ax" stroke-width="1.6" d="M89 634.8V833.4M84 828.8H89M84 796.58H89M84 764.37H89M84 732.15H89M84 699.93H89M84 667.72H89M84 635.5H89"/>
<path class="ax" stroke="#111" stroke-width="1.3" d="M84 828.8H332.0M129.55 828.8V833.4M169.9 828.8V833.4M210.25 828.8V833.4M250.6 828.8V833.4M290.95 828.8V833.4M331.3 828.8V833.4"/>
<text class="t" text-anchor="end" x="75.4" y="834.1">0</text>
<text class="t" text-anchor="end" x="75.4" y="801.9">50</text>
<text class="t" text-anchor="end" x="75.4" y="769.7">100</text>
<text class="t" text-anchor="end" x="75.4" y="737.4">150</text>
<text class="t" text-anchor="end" x="75.4" y="705.2">200</text>
<text class="t" text-anchor="end" x="75.4" y="673.0">250</text>
<text class="t" text-anchor="end" x="75.4" y="640.8">300</text>
<text class="t" text-anchor="middle" x="89.2" y="853.5">0</text>
<text class="t" text-anchor="middle" x="129.6" y="853.5">0.5</text>
<text class="t" text-anchor="middle" x="169.9" y="853.5">1</text>
<text class="t" text-anchor="middle" x="210.2" y="853.5">1.5</text>
<text class="t" text-anchor="middle" x="250.6" y="853.5">2</text>
<text class="t" text-anchor="middle" x="290.9" y="853.5">2.5</text>
<text class="t" text-anchor="middle" x="331.3" y="853.5">3</text>
<text class="yl" text-anchor="middle" transform="translate(42.5 732.4) rotate(-90)">Tree biomass C (Mg C ha<tspan class="sup" dy="-5.6">-1</tspan><tspan dy="5.6">)</tspan></text>
<text class="t" text-anchor="middle" x="210" y="877.1">Species diversity index</text>
<text class="eq" text-anchor="middle" x="170.0" y="645.8" xml:space="preserve">y = 22.81x - 4.73</text>
<text class="eq" text-anchor="middle" x="170.0" y="662.6" xml:space="preserve">R² = 0.05  p = 0.00</text>
</g>
<!-- panel f -->
<g>
<path d="M720 619.5H362.2V910H720" fill="none" stroke="#d9d9d9" stroke-width="1"/>
<text class="lab" x="363" y="615.4">f)</text>
<g class="pt">
<circle cx="611.1" cy="660.9" r="4.4"/><circle cx="503.8" cy="691.4" r="4.4"/><circle cx="496.3" cy="717.3" r="4.4"/><circle cx="552.8" cy="754.3" r="4.4"/><circle cx="523.4" cy="766.2" r="4.4"/><circle cx="536.6" cy="770.8" r="4.4"/><circle cx="533.1" cy="776.8" r="4.4"/><circle cx="552.8" cy="773.5" r="4.4"/><circle cx="544.1" cy="775.7" r="4.4"/><circle cx="547.8" cy="779.9" r="4.4"/><circle cx="559.2" cy="779.9" r="4.4"/><circle cx="566.5" cy="779.9" r="4.4"/><circle cx="562.8" cy="786.3" r="4.4"/><circle cx="559.2" cy="789.1" r="4.4"/><circle cx="494.5" cy="779.9" r="4.4"/><circle cx="504.2" cy="788.2" r="4.4"/><circle cx="509.3" cy="793.3" r="4.4"/><circle cx="494.5" cy="795.1" r="4.4"/><circle cx="502.9" cy="797.9" r="4.4"/><circle cx="549.5" cy="790.0" r="4.4"/><circle cx="546.3" cy="794.6" r="4.4"/><circle cx="551.8" cy="797.3" r="4.4"/><circle cx="528.0" cy="797.0" r="4.4"/><circle cx="563.2" cy="797.0" r="4.4"/><circle cx="533.1" cy="804.3" r="4.4"/><circle cx="511.1" cy="807.4" r="4.4"/><circle cx="509.3" cy="815.1" r="4.4"/><circle cx="550.0" cy="801.9" r="4.4"/><circle cx="557.3" cy="806.5" r="4.4"/><circle cx="549.1" cy="809.3" r="4.4"/><circle cx="568.3" cy="806.5" r="4.4"/><circle cx="459.3" cy="822.1" r="4.4"/><circle cx="480.0" cy="824.8" r="4.4"/><circle cx="502.9" cy="821.5" r="4.4"/><circle cx="495.9" cy="825.8" r="4.4"/><circle cx="480.0" cy="834.0" r="4.4"/><circle cx="478.5" cy="837.7" r="4.4"/><circle cx="489.5" cy="830.3" r="4.4"/><circle cx="490.4" cy="835.8" r="4.4"/><circle cx="496.8" cy="836.8" r="4.4"/><circle cx="504.2" cy="839.5" r="4.4"/><circle cx="509.3" cy="827.6" r="4.4"/><circle cx="513.3" cy="823.0" r="4.4"/><circle cx="520.7" cy="822.1" r="4.4"/><circle cx="523.4" cy="819.3" r="4.4"/><circle cx="531.7" cy="814.8" r="4.4"/><circle cx="538.1" cy="814.8" r="4.4"/><circle cx="545.4" cy="812.9" r="4.4"/><circle cx="553.7" cy="813.8" r="4.4"/><circle cx="561.9" cy="813.8" r="4.4"/><circle cx="566.5" cy="818.4" r="4.4"/><circle cx="515.2" cy="837.7" r="4.4"/><circle cx="520.7" cy="834.9" r="4.4"/><circle cx="596.1" cy="740.9" r="4.4"/><circle cx="573.2" cy="767.1" r="4.4"/><circle cx="580.5" cy="768.9" r="4.4"/><circle cx="594.8" cy="766.7" r="4.4"/><circle cx="590.3" cy="772.6" r="4.4"/><circle cx="571.9" cy="779.9" r="4.4"/><circle cx="565.5" cy="780.8" r="4.4"/><circle cx="560.0" cy="780.8" r="4.4"/><circle cx="562.8" cy="787.3" r="4.4"/><circle cx="603.6" cy="786.0" r="4.4"/><circle cx="574.7" cy="788.5" r="4.4"/><circle cx="577.8" cy="794.6" r="4.4"/><circle cx="637.4" cy="790.4" r="4.4"/><circle cx="619.2" cy="795.5" r="4.4"/><circle cx="563.7" cy="797.0" r="4.4"/><circle cx="571.9" cy="798.8" r="4.4"/><circle cx="587.1" cy="797.7" r="4.4"/><circle cx="615.9" cy="805.0" r="4.4"/><circle cx="568.3" cy="806.5" r="4.4"/><circle cx="570.1" cy="810.2" r="4.4"/><circle cx="583.8" cy="810.5" r="4.4"/><circle cx="583.8" cy="815.7" r="4.4"/><circle cx="562.8" cy="814.8" r="4.4"/><circle cx="566.4" cy="819.3" r="4.4"/><circle cx="571.9" cy="814.8" r="4.4"/><circle cx="606.8" cy="815.7" r="4.4"/><circle cx="610.4" cy="819.7" r="4.4"/><circle cx="611.3" cy="824.8" r="4.4"/><circle cx="624.7" cy="815.7" r="4.4"/><circle cx="631.0" cy="824.3" r="4.4"/><circle cx="577.4" cy="818.4" r="4.4"/><circle cx="578.3" cy="823.9" r="4.4"/><circle cx="562.8" cy="829.4" r="4.4"/><circle cx="560.0" cy="834.0" r="4.4"/><circle cx="572.8" cy="828.5" r="4.4"/><circle cx="571.9" cy="834.9" r="4.4"/><circle cx="583.8" cy="831.3" r="4.4"/><circle cx="587.9" cy="831.6" r="4.4"/><circle cx="596.1" cy="835.8" r="4.4"/><circle cx="479.7" cy="824.6" r="4.4"/><circle cx="479.7" cy="834.7" r="4.4"/><circle cx="478.9" cy="838.5" r="4.4"/><circle cx="495.9" cy="826.1" r="4.4"/><circle cx="490.5" cy="830.8" r="4.4"/><circle cx="489.7" cy="836.2" r="4.4"/><circle cx="502.9" cy="822.2" r="4.4"/><circle cx="508.4" cy="828.4" r="4.4"/><circle cx="502.9" cy="834.7" r="4.4"/><circle cx="503.7" cy="839.3" r="4.4"/><circle cx="513.8" cy="824.6" r="4.4"/><circle cx="512.2" cy="834.7" r="4.4"/><circle cx="516.9" cy="837.8" r="4.4"/><circle cx="523.1" cy="819.9" r="4.4"/><circle cx="521.5" cy="828.4" r="4.4"/><circle cx="495.2" cy="837.8" r="4.4"/><circle cx="484.3" cy="837.0" r="4.4"/><circle cx="509.1" cy="838.5" r="4.4"/><circle cx="521.5" cy="837.0" r="4.4"/><circle cx="494.4" cy="795.6" r="4.4"/><circle cx="504.5" cy="788.9" r="4.4"/><circle cx="509.1" cy="793.5" r="4.4"/><circle cx="502.9" cy="797.4" r="4.4"/><circle cx="528.2" cy="796.6" r="4.4"/><circle cx="533.2" cy="804.4" r="4.4"/><circle cx="511.5" cy="807.5" r="4.4"/><circle cx="509.1" cy="815.3" r="4.4"/><circle cx="549.5" cy="790.4" r="4.4"/><circle cx="545.6" cy="795.9" r="4.4"/><circle cx="552.6" cy="796.6" r="4.4"/><circle cx="563.4" cy="796.6" r="4.4"/><circle cx="559.6" cy="788.1" r="4.4"/><circle cx="575.1" cy="788.1" r="4.4"/><circle cx="578.2" cy="795.1" r="4.4"/><circle cx="572.0" cy="799.0" r="4.4"/><circle cx="549.5" cy="803.6" r="4.4"/><circle cx="555.7" cy="806.7" r="4.4"/><circle cx="547.9" cy="809.8" r="4.4"/><circle cx="569.6" cy="806.7" r="4.4"/><circle cx="572.0" cy="812.2" r="4.4"/><circle cx="564.2" cy="814.5" r="4.4"/><circle cx="583.6" cy="811.4" r="4.4"/><circle cx="530.1" cy="815.3" r="4.4"/><circle cx="537.1" cy="815.3" r="4.4"/><circle cx="540.2" cy="819.9" r="4.4"/><circle cx="574.3" cy="822.2" r="4.4"/><circle cx="577.4" cy="830.0" r="4.4"/><circle cx="571.2" cy="834.7" r="4.4"/><circle cx="583.6" cy="831.5" r="4.4"/><circle cx="555.7" cy="812.9" r="4.4"/><circle cx="549.5" cy="816.0" r="4.4"/><circle cx="533.8" cy="819.2" r="4.4"/><circle cx="538.2" cy="819.2" r="4.4"/><circle cx="542.8" cy="819.2" r="4.4"/><circle cx="547.2" cy="819.2" r="4.4"/><circle cx="551.8" cy="819.2" r="4.4"/><circle cx="556.2" cy="819.2" r="4.4"/><circle cx="527.0" cy="823.1" r="4.4"/><circle cx="531.5" cy="823.1" r="4.4"/><circle cx="536.0" cy="823.1" r="4.4"/><circle cx="540.5" cy="823.1" r="4.4"/><circle cx="545.0" cy="823.1" r="4.4"/><circle cx="549.5" cy="823.1" r="4.4"/><circle cx="554.0" cy="823.1" r="4.4"/><circle cx="558.5" cy="823.1" r="4.4"/><circle cx="563.0" cy="823.1" r="4.4"/><circle cx="529.2" cy="827.0" r="4.4"/><circle cx="533.8" cy="827.0" r="4.4"/><circle cx="538.2" cy="827.0" r="4.4"/><circle cx="542.8" cy="827.0" r="4.4"/><circle cx="547.2" cy="827.0" r="4.4"/><circle cx="551.8" cy="827.0" r="4.4"/><circle cx="556.2" cy="827.0" r="4.4"/><circle cx="560.8" cy="827.0" r="4.4"/><circle cx="565.2" cy="827.0" r="4.4"/><circle cx="527.0" cy="831.0" r="4.4"/><circle cx="531.5" cy="831.0" r="4.4"/><circle cx="536.0" cy="831.0" r="4.4"/><circle cx="540.5" cy="831.0" r="4.4"/><circle cx="545.0" cy="831.0" r="4.4"/><circle cx="549.5" cy="831.0" r="4.4"/><circle cx="554.0" cy="831.0" r="4.4"/><circle cx="558.5" cy="831.0" r="4.4"/><circle cx="563.0" cy="831.0" r="4.4"/><circle cx="567.5" cy="831.0" r="4.4"/><circle cx="529.2" cy="834.9" r="4.4"/><circle cx="533.8" cy="834.9" r="4.4"/><circle cx="538.2" cy="834.9" r="4.4"/><circle cx="542.8" cy="834.9" r="4.4"/><circle cx="547.2" cy="834.9" r="4.4"/><circle cx="551.8" cy="834.9" r="4.4"/><circle cx="556.2" cy="834.9" r="4.4"/><circle cx="560.8" cy="834.9" r="4.4"/><circle cx="565.2" cy="834.9" r="4.4"/>
</g>
<line class="tl" x1="637.2" y1="797.1" x2="459.6" y2="831.5"/>
<path class="ax" stroke-width="1.6" d="M443.2 634.5999999999999V844.3000000000001M438.2 839.7H443.2M438.2 805.63H443.2M438.2 771.57H443.2M438.2 737.5H443.2M438.2 703.43H443.2M438.2 669.37H443.2M438.2 635.3H443.2"/>
<path class="ax" stroke="#111" stroke-width="1.3" d="M438.2 839.7H698.0M528.1 839.7V844.3000000000001M612.7 839.7V844.3000000000001M697.3 839.7V844.3000000000001"/>
<text class="t" text-anchor="end" x="429.59999999999997" y="845.0">0</text>
<text class="t" text-anchor="end" x="429.59999999999997" y="810.9">50</text>
<text class="t" text-anchor="end" x="429.59999999999997" y="776.9">100</text>
<text class="t" text-anchor="end" x="429.59999999999997" y="742.8">150</text>
<text class="t" text-anchor="end" x="429.59999999999997" y="708.7">200</text>
<text class="t" text-anchor="end" x="429.59999999999997" y="674.7">250</text>
<text class="t" text-anchor="end" x="429.59999999999997" y="640.6">300</text>
<text class="t" text-anchor="middle" x="443.5" y="864.4">0</text>
<text class="t" text-anchor="middle" x="528.1" y="864.4">2</text>
<text class="t" text-anchor="middle" x="612.7" y="864.4">4</text>
<text class="t" text-anchor="middle" x="697.3" y="864.4">6</text>
<text class="yl" text-anchor="middle" transform="translate(396.7 737.8) rotate(-90)">Tree biomass C (Mg C ha<tspan class="sup" dy="-5.6">-1</tspan><tspan dy="5.6">)</tspan></text>
<text class="t" text-anchor="middle" x="571" y="887.6">Species richness</text>
<text class="eq" text-anchor="middle" x="516.5" y="645.8" xml:space="preserve">y = 11.95x + 7.80</text>
<text class="eq" text-anchor="middle" x="516.5" y="662.6" xml:space="preserve">R² = 0.06  p = 0.00</text>
</g>
</svg></body></html>
